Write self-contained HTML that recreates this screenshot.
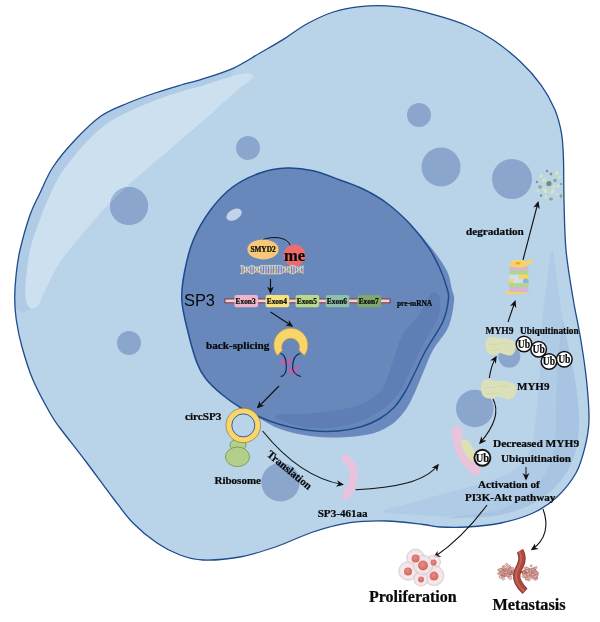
<!DOCTYPE html><html><head><meta charset="utf-8"><style>html,body{margin:0;padding:0;background:#fff}svg{display:block;will-change:transform}text{font-family:"Liberation Serif",serif;font-weight:bold;fill:#080808;stroke:#080808;stroke-width:0.22px}</style></head><body><svg width="600" height="622" viewBox="0 0 600 622">
<defs><marker id="ah" viewBox="0 0 10 10" refX="8" refY="5" markerWidth="7.5" markerHeight="7.5" markerUnits="userSpaceOnUse" orient="auto-start-reverse"><path d="M0,0.5 L10,5 L0,9.5 L3,5 Z" fill="#111"/></marker></defs>
<rect width="600" height="622" fill="#fff"/>
<g>
<path d="M14.7,298.0 C14.7,290.3 15.3,282.0 16.2,274.0 C17.1,266.0 17.7,259.8 20.0,250.0 C22.3,240.2 26.7,224.5 30.0,215.0 C33.3,205.5 36.2,201.0 40.0,193.0 C43.8,185.0 47.2,175.8 53.0,167.0 C58.8,158.2 67.0,148.5 75.0,140.0 C83.0,131.5 92.2,122.2 101.0,116.0 C109.8,109.8 119.0,106.8 128.0,103.0 C137.0,99.2 146.2,96.0 155.0,93.0 C163.8,90.0 173.5,87.2 181.0,85.0 C188.5,82.8 191.3,82.6 200.0,79.8 C208.7,77.0 223.0,72.8 233.0,68.3 C243.0,63.8 251.7,57.8 260.0,53.0 C268.3,48.2 275.2,44.4 283.0,39.6 C290.8,34.8 298.3,28.6 306.7,24.0 C315.1,19.4 324.4,14.9 333.3,12.0 C342.2,9.1 351.1,7.7 360.0,6.7 C368.9,5.7 377.8,5.5 386.7,5.9 C395.6,6.3 404.4,7.6 413.3,9.3 C422.2,11.0 431.1,13.6 440.0,16.3 C448.9,19.0 457.8,21.6 466.7,25.5 C475.6,29.4 484.4,34.0 493.3,40.0 C502.2,46.0 512.0,53.8 520.0,61.3 C528.0,68.8 535.5,77.3 541.3,85.3 C547.1,93.3 551.3,101.3 554.7,109.3 C558.1,117.3 560.0,124.9 561.5,133.3 C563.0,141.8 563.1,148.9 563.5,160.0 C563.9,171.1 563.6,185.0 564.0,200.0 C564.4,215.0 564.5,233.7 566.0,250.0 C567.5,266.3 570.6,283.3 573.0,298.0 C575.4,312.7 578.2,324.3 580.5,338.0 C582.8,351.7 585.1,366.3 586.5,380.0 C587.9,393.7 589.2,408.8 589.0,420.0 C588.8,431.2 587.2,438.2 585.0,447.0 C582.8,455.8 580.7,464.7 576.0,473.0 C571.3,481.3 564.2,490.3 557.0,497.0 C549.8,503.7 542.3,508.7 533.0,513.0 C523.7,517.3 512.0,520.7 501.0,523.0 C490.0,525.3 477.2,526.3 467.0,527.0 C456.8,527.7 447.3,527.4 440.0,527.0 C432.7,526.6 431.9,525.5 423.0,524.5 C414.1,523.5 398.9,521.3 386.7,521.0 C374.5,520.7 362.3,520.9 350.0,522.7 C337.7,524.5 325.2,528.0 313.0,532.0 C300.8,536.0 288.9,542.3 276.7,546.5 C264.5,550.7 252.3,554.8 240.0,557.0 C227.7,559.2 213.0,560.3 203.0,560.0 C193.0,559.7 187.7,557.8 180.0,555.0 C172.3,552.2 164.8,548.3 157.0,543.0 C149.2,537.7 140.3,530.5 133.0,523.0 C125.7,515.5 120.7,508.0 113.0,498.0 C105.3,488.0 95.8,474.7 87.0,463.0 C78.2,451.3 66.2,436.3 60.0,428.0 C53.8,419.7 54.5,421.0 50.0,413.0 C45.5,405.0 37.7,391.0 33.0,380.0 C28.3,369.0 24.8,357.0 22.0,347.0 C19.2,337.0 17.5,328.2 16.3,320.0 C15.1,311.8 14.7,305.7 14.7,298.0Z" fill="#B9D3E9"/>
<circle cx="129" cy="206" r="19" fill="#8BA6CC"/>
<circle cx="248" cy="148" r="12" fill="#8BA6CC"/>
<circle cx="419" cy="115" r="12" fill="#8BA6CC"/>
<circle cx="441" cy="167" r="19.5" fill="#8BA6CC"/>
<circle cx="512" cy="179" r="20" fill="#8BA6CC"/>
<circle cx="129" cy="343" r="12" fill="#8BA6CC"/>
<circle cx="280.5" cy="482.3" r="19.2" fill="#8BA6CC"/>
<circle cx="474.8" cy="408.5" r="18.8" fill="#8BA6CC"/>
<circle cx="509.3" cy="356.6" r="11" fill="#8BA6CC"/>
<clipPath id="cc"><path d="M14.7,298.0 C14.7,290.3 15.3,282.0 16.2,274.0 C17.1,266.0 17.7,259.8 20.0,250.0 C22.3,240.2 26.7,224.5 30.0,215.0 C33.3,205.5 36.2,201.0 40.0,193.0 C43.8,185.0 47.2,175.8 53.0,167.0 C58.8,158.2 67.0,148.5 75.0,140.0 C83.0,131.5 92.2,122.2 101.0,116.0 C109.8,109.8 119.0,106.8 128.0,103.0 C137.0,99.2 146.2,96.0 155.0,93.0 C163.8,90.0 173.5,87.2 181.0,85.0 C188.5,82.8 191.3,82.6 200.0,79.8 C208.7,77.0 223.0,72.8 233.0,68.3 C243.0,63.8 251.7,57.8 260.0,53.0 C268.3,48.2 275.2,44.4 283.0,39.6 C290.8,34.8 298.3,28.6 306.7,24.0 C315.1,19.4 324.4,14.9 333.3,12.0 C342.2,9.1 351.1,7.7 360.0,6.7 C368.9,5.7 377.8,5.5 386.7,5.9 C395.6,6.3 404.4,7.6 413.3,9.3 C422.2,11.0 431.1,13.6 440.0,16.3 C448.9,19.0 457.8,21.6 466.7,25.5 C475.6,29.4 484.4,34.0 493.3,40.0 C502.2,46.0 512.0,53.8 520.0,61.3 C528.0,68.8 535.5,77.3 541.3,85.3 C547.1,93.3 551.3,101.3 554.7,109.3 C558.1,117.3 560.0,124.9 561.5,133.3 C563.0,141.8 563.1,148.9 563.5,160.0 C563.9,171.1 563.6,185.0 564.0,200.0 C564.4,215.0 564.5,233.7 566.0,250.0 C567.5,266.3 570.6,283.3 573.0,298.0 C575.4,312.7 578.2,324.3 580.5,338.0 C582.8,351.7 585.1,366.3 586.5,380.0 C587.9,393.7 589.2,408.8 589.0,420.0 C588.8,431.2 587.2,438.2 585.0,447.0 C582.8,455.8 580.7,464.7 576.0,473.0 C571.3,481.3 564.2,490.3 557.0,497.0 C549.8,503.7 542.3,508.7 533.0,513.0 C523.7,517.3 512.0,520.7 501.0,523.0 C490.0,525.3 477.2,526.3 467.0,527.0 C456.8,527.7 447.3,527.4 440.0,527.0 C432.7,526.6 431.9,525.5 423.0,524.5 C414.1,523.5 398.9,521.3 386.7,521.0 C374.5,520.7 362.3,520.9 350.0,522.7 C337.7,524.5 325.2,528.0 313.0,532.0 C300.8,536.0 288.9,542.3 276.7,546.5 C264.5,550.7 252.3,554.8 240.0,557.0 C227.7,559.2 213.0,560.3 203.0,560.0 C193.0,559.7 187.7,557.8 180.0,555.0 C172.3,552.2 164.8,548.3 157.0,543.0 C149.2,537.7 140.3,530.5 133.0,523.0 C125.7,515.5 120.7,508.0 113.0,498.0 C105.3,488.0 95.8,474.7 87.0,463.0 C78.2,451.3 66.2,436.3 60.0,428.0 C53.8,419.7 54.5,421.0 50.0,413.0 C45.5,405.0 37.7,391.0 33.0,380.0 C28.3,369.0 24.8,357.0 22.0,347.0 C19.2,337.0 17.5,328.2 16.3,320.0 C15.1,311.8 14.7,305.7 14.7,298.0Z"/></clipPath>
<path d="M236.0,60.0 C232.3,56.3 214.3,66.3 200.0,70.0 C185.7,73.7 166.7,75.7 150.0,82.0 C133.3,88.3 116.7,95.0 100.0,108.0 C83.3,121.0 65.0,136.3 50.0,160.0 C35.0,183.7 17.2,228.0 10.0,250.0 C2.8,272.0 5.5,281.8 7.0,292.0 C8.5,302.2 15.0,308.3 19.0,311.0 C23.0,313.7 26.2,312.3 31.0,308.0 C35.8,303.7 43.2,292.6 48.0,285.0 C52.8,277.4 54.5,270.7 60.0,262.5 C65.5,254.3 73.0,245.6 81.0,236.0 C89.0,226.4 99.3,214.2 108.0,205.0 C116.7,195.8 122.9,190.1 133.0,181.0 C143.1,171.9 156.9,160.4 168.5,150.5 C180.1,140.6 193.7,131.2 202.6,121.5 C211.5,111.8 216.4,102.2 222.0,92.0 C227.6,81.8 239.7,63.7 236.0,60.0Z" fill="#AFCBE6" clip-path="url(#cc)"/>
<path d="M253.5,76.5 C253.4,75.1 251.4,73.3 248.0,73.2 C244.6,73.1 241.0,73.8 233.0,76.0 C225.0,78.2 208.7,83.9 200.0,86.5 C191.3,89.1 188.5,89.2 181.0,91.5 C173.5,93.8 163.7,97.2 155.0,100.5 C146.3,103.8 137.3,107.4 129.0,111.5 C120.7,115.6 113.0,118.9 105.0,125.0 C97.0,131.1 88.3,139.9 81.0,148.0 C73.7,156.1 66.3,165.3 61.0,173.5 C55.7,181.7 52.4,189.6 49.0,197.0 C45.6,204.4 43.7,209.2 40.5,218.0 C37.3,226.8 32.5,238.8 30.0,250.0 C27.5,261.2 26.2,276.7 25.5,285.0 C24.8,293.3 25.5,296.4 26.0,300.0 C26.5,303.6 27.2,305.1 28.5,306.5 C29.8,307.9 31.8,308.8 33.5,308.5 C35.2,308.2 37.1,306.9 38.5,305.0 C39.9,303.1 40.4,300.3 42.0,297.0 C43.6,293.7 45.0,290.8 48.0,285.0 C51.0,279.2 54.5,270.7 60.0,262.5 C65.5,254.3 73.0,245.6 81.0,236.0 C89.0,226.4 99.3,214.2 108.0,205.0 C116.7,195.8 122.9,190.1 133.0,181.0 C143.1,171.9 156.9,160.4 168.5,150.5 C180.1,140.6 191.5,131.2 202.6,121.5 C213.7,111.8 227.3,98.7 235.0,92.0 C242.7,85.3 245.4,84.1 248.5,81.5 C251.6,78.9 253.6,77.9 253.5,76.5Z" fill="#CDE0EF"/>
<clipPath id="hc"><path d="M253.5,76.5 C253.4,75.1 251.4,73.3 248.0,73.2 C244.6,73.1 241.0,73.8 233.0,76.0 C225.0,78.2 208.7,83.9 200.0,86.5 C191.3,89.1 188.5,89.2 181.0,91.5 C173.5,93.8 163.7,97.2 155.0,100.5 C146.3,103.8 137.3,107.4 129.0,111.5 C120.7,115.6 113.0,118.9 105.0,125.0 C97.0,131.1 88.3,139.9 81.0,148.0 C73.7,156.1 66.3,165.3 61.0,173.5 C55.7,181.7 52.4,189.6 49.0,197.0 C45.6,204.4 43.7,209.2 40.5,218.0 C37.3,226.8 32.5,238.8 30.0,250.0 C27.5,261.2 26.2,276.7 25.5,285.0 C24.8,293.3 25.5,296.4 26.0,300.0 C26.5,303.6 27.2,305.1 28.5,306.5 C29.8,307.9 31.8,308.8 33.5,308.5 C35.2,308.2 37.1,306.9 38.5,305.0 C39.9,303.1 40.4,300.3 42.0,297.0 C43.6,293.7 45.0,290.8 48.0,285.0 C51.0,279.2 54.5,270.7 60.0,262.5 C65.5,254.3 73.0,245.6 81.0,236.0 C89.0,226.4 99.3,214.2 108.0,205.0 C116.7,195.8 122.9,190.1 133.0,181.0 C143.1,171.9 156.9,160.4 168.5,150.5 C180.1,140.6 191.5,131.2 202.6,121.5 C213.7,111.8 227.3,98.7 235.0,92.0 C242.7,85.3 245.4,84.1 248.5,81.5 C251.6,78.9 253.6,77.9 253.5,76.5Z"/></clipPath>
<circle cx="129" cy="206" r="19" fill="#8BA6CC"/>
<circle cx="129" cy="206" r="19" fill="#9DB5D6" clip-path="url(#hc)"/>
<path d="M552.0,250.0 C553.8,248.3 555.3,269.0 557.0,280.0 C558.7,291.0 560.2,305.2 562.0,316.0 C563.8,326.8 565.8,334.3 568.0,345.0 C570.2,355.7 573.2,368.3 575.0,380.0 C576.8,391.7 578.7,404.2 579.0,415.0 C579.3,425.8 578.8,435.8 577.0,445.0 C575.2,454.2 572.2,462.5 568.0,470.0 C563.8,477.5 558.3,484.2 552.0,490.0 C545.7,495.8 538.7,500.8 530.0,505.0 C521.3,509.2 511.7,513.0 500.0,515.0 C488.3,517.0 473.3,517.0 460.0,517.0 C446.7,517.0 432.8,515.9 420.0,515.0 C407.2,514.1 384.2,513.6 383.0,511.5 C381.8,509.4 402.4,505.6 413.0,502.5 C423.6,499.4 435.5,496.1 446.7,493.0 C457.9,489.9 471.1,486.7 480.0,484.0 C488.9,481.3 493.7,479.8 500.0,477.0 C506.3,474.2 513.3,471.3 518.0,467.5 C522.7,463.7 525.5,458.6 528.0,454.0 C530.5,449.4 531.8,445.7 533.0,440.0 C534.2,434.3 534.5,429.2 535.5,420.0 C536.5,410.8 538.0,400.5 539.0,385.0 C540.0,369.5 540.5,342.8 541.7,327.0 C542.9,311.2 544.3,302.8 546.0,290.0 C547.7,277.2 550.2,251.7 552.0,250.0Z" fill="#B0CBE6"/>
<path d="M563.0,322.0 C564.5,321.2 566.0,335.3 568.0,345.0 C570.0,354.7 573.2,368.3 575.0,380.0 C576.8,391.7 578.7,404.2 579.0,415.0 C579.3,425.8 578.8,435.8 577.0,445.0 C575.2,454.2 572.2,462.5 568.0,470.0 C563.8,477.5 558.3,484.2 552.0,490.0 C545.7,495.8 538.7,500.8 530.0,505.0 C521.3,509.2 510.0,512.9 500.0,515.0 C490.0,517.1 478.7,517.0 470.0,517.5 C461.3,518.0 448.0,518.5 448.0,518.0 C448.0,517.5 460.9,516.0 470.0,514.5 C479.1,513.0 492.8,512.4 502.5,509.0 C512.2,505.6 520.9,499.8 528.0,494.0 C535.1,488.2 540.8,481.0 545.0,474.0 C549.2,467.0 551.7,461.0 553.5,452.0 C555.3,443.0 555.5,431.2 556.0,420.0 C556.5,408.8 556.0,396.7 556.5,385.0 C557.0,373.3 557.9,360.5 559.0,350.0 C560.1,339.5 561.5,322.8 563.0,322.0Z" fill="#A7C5E2"/>
<path d="M14.7,298.0 C14.7,290.3 15.3,282.0 16.2,274.0 C17.1,266.0 17.7,259.8 20.0,250.0 C22.3,240.2 26.7,224.5 30.0,215.0 C33.3,205.5 36.2,201.0 40.0,193.0 C43.8,185.0 47.2,175.8 53.0,167.0 C58.8,158.2 67.0,148.5 75.0,140.0 C83.0,131.5 92.2,122.2 101.0,116.0 C109.8,109.8 119.0,106.8 128.0,103.0 C137.0,99.2 146.2,96.0 155.0,93.0 C163.8,90.0 173.5,87.2 181.0,85.0 C188.5,82.8 191.3,82.6 200.0,79.8 C208.7,77.0 223.0,72.8 233.0,68.3 C243.0,63.8 251.7,57.8 260.0,53.0 C268.3,48.2 275.2,44.4 283.0,39.6 C290.8,34.8 298.3,28.6 306.7,24.0 C315.1,19.4 324.4,14.9 333.3,12.0 C342.2,9.1 351.1,7.7 360.0,6.7 C368.9,5.7 377.8,5.5 386.7,5.9 C395.6,6.3 404.4,7.6 413.3,9.3 C422.2,11.0 431.1,13.6 440.0,16.3 C448.9,19.0 457.8,21.6 466.7,25.5 C475.6,29.4 484.4,34.0 493.3,40.0 C502.2,46.0 512.0,53.8 520.0,61.3 C528.0,68.8 535.5,77.3 541.3,85.3 C547.1,93.3 551.3,101.3 554.7,109.3 C558.1,117.3 560.0,124.9 561.5,133.3 C563.0,141.8 563.1,148.9 563.5,160.0 C563.9,171.1 563.6,185.0 564.0,200.0 C564.4,215.0 564.5,233.7 566.0,250.0 C567.5,266.3 570.6,283.3 573.0,298.0 C575.4,312.7 578.2,324.3 580.5,338.0 C582.8,351.7 585.1,366.3 586.5,380.0 C587.9,393.7 589.2,408.8 589.0,420.0 C588.8,431.2 587.2,438.2 585.0,447.0 C582.8,455.8 580.7,464.7 576.0,473.0 C571.3,481.3 564.2,490.3 557.0,497.0 C549.8,503.7 542.3,508.7 533.0,513.0 C523.7,517.3 512.0,520.7 501.0,523.0 C490.0,525.3 477.2,526.3 467.0,527.0 C456.8,527.7 447.3,527.4 440.0,527.0 C432.7,526.6 431.9,525.5 423.0,524.5 C414.1,523.5 398.9,521.3 386.7,521.0 C374.5,520.7 362.3,520.9 350.0,522.7 C337.7,524.5 325.2,528.0 313.0,532.0 C300.8,536.0 288.9,542.3 276.7,546.5 C264.5,550.7 252.3,554.8 240.0,557.0 C227.7,559.2 213.0,560.3 203.0,560.0 C193.0,559.7 187.7,557.8 180.0,555.0 C172.3,552.2 164.8,548.3 157.0,543.0 C149.2,537.7 140.3,530.5 133.0,523.0 C125.7,515.5 120.7,508.0 113.0,498.0 C105.3,488.0 95.8,474.7 87.0,463.0 C78.2,451.3 66.2,436.3 60.0,428.0 C53.8,419.7 54.5,421.0 50.0,413.0 C45.5,405.0 37.7,391.0 33.0,380.0 C28.3,369.0 24.8,357.0 22.0,347.0 C19.2,337.0 17.5,328.2 16.3,320.0 C15.1,311.8 14.7,305.7 14.7,298.0Z" fill="none" stroke="#1F4A8C" stroke-width="1.3"/>
<path d="M181.8,300.0 C181.3,290.3 182.6,282.0 184.5,272.0 C186.4,262.0 189.0,250.3 193.3,240.0 C197.6,229.7 203.9,219.1 210.3,210.3 C216.8,201.6 223.7,193.7 232.0,187.5 C240.3,181.3 250.9,176.2 260.0,173.0 C269.1,169.8 277.9,168.4 286.7,168.0 C295.5,167.6 304.1,168.7 313.0,170.7 C321.9,172.7 331.7,176.9 340.0,180.0 C348.3,183.1 355.2,185.2 363.0,189.0 C370.8,192.8 378.5,196.8 386.7,203.0 C394.9,209.2 404.3,218.2 412.0,226.0 C419.7,233.8 427.2,242.5 433.0,250.0 C438.8,257.5 443.8,264.4 447.0,271.0 C450.2,277.6 450.8,284.7 452.0,289.7 C453.2,294.7 454.6,294.8 454.0,301.0 C453.4,307.2 452.0,318.5 448.5,326.7 C445.0,334.9 437.2,342.3 433.0,350.0 C428.8,357.7 426.0,366.0 423.0,373.0 C420.0,380.0 417.6,386.3 415.0,392.0 C412.4,397.7 410.5,402.3 407.5,407.0 C404.5,411.7 400.9,416.3 397.0,420.0 C393.1,423.7 388.8,426.6 384.0,429.0 C379.2,431.4 375.3,433.1 368.0,434.5 C360.7,435.9 349.7,437.2 340.0,437.5 C330.3,437.8 320.0,437.4 310.0,436.0 C300.0,434.6 288.7,432.1 280.0,429.0 C271.3,425.9 264.7,421.1 258.0,417.5 C251.3,413.9 246.0,411.3 240.0,407.5 C234.0,403.7 227.7,399.2 222.0,394.5 C216.3,389.8 210.2,384.2 206.0,379.0 C201.8,373.8 200.1,371.2 197.0,363.0 C193.9,354.8 190.0,340.5 187.5,330.0 C185.0,319.5 182.3,309.7 181.8,300.0Z" fill="#6A8ABF"/>
<path d="M181.8,300.0 C181.3,290.3 182.6,282.0 184.5,272.0 C186.4,262.0 189.0,250.3 193.3,240.0 C197.6,229.7 203.9,219.1 210.3,210.3 C216.8,201.6 223.7,193.7 232.0,187.5 C240.3,181.3 250.9,176.2 260.0,173.0 C269.1,169.8 277.9,168.4 286.7,168.0 C295.5,167.6 304.1,168.7 313.0,170.7 C321.9,172.7 331.7,176.9 340.0,180.0 C348.3,183.1 355.2,185.2 363.0,189.0 C370.8,192.8 378.9,197.2 386.7,203.0 C394.5,208.8 403.0,216.6 410.0,224.0 C417.0,231.4 423.7,240.2 428.7,247.7 C433.7,255.1 437.1,262.5 440.0,268.7 C442.9,274.9 444.6,280.0 446.0,285.0 C447.4,290.0 449.1,292.5 448.5,298.7 C447.9,304.9 446.4,313.4 442.7,322.0 C438.9,330.6 430.7,341.5 426.0,350.0 C421.3,358.5 418.2,366.0 414.7,373.0 C411.2,380.0 408.4,386.2 405.0,392.0 C401.6,397.8 398.2,403.1 394.0,407.5 C389.8,411.9 385.3,415.3 380.0,418.5 C374.7,421.7 369.0,424.4 362.0,426.5 C355.0,428.6 346.7,430.3 338.0,431.0 C329.3,431.7 319.7,431.6 310.0,430.5 C300.3,429.4 288.7,426.9 280.0,424.5 C271.3,422.1 264.7,419.2 258.0,416.3 C251.3,413.4 246.0,410.9 240.0,407.3 C234.0,403.7 227.7,399.2 222.0,394.5 C216.3,389.8 210.2,384.2 206.0,379.0 C201.8,373.8 200.1,371.2 197.0,363.0 C193.9,354.8 190.0,340.5 187.5,330.0 C185.0,319.5 182.3,309.7 181.8,300.0Z" fill="#6888BC" stroke="#1F4A8C" stroke-width="1.5"/>
<path d="M434.5,292.0 C436.5,292.3 439.4,295.7 440.0,300.0 C440.6,304.3 440.7,310.8 438.0,318.0 C435.3,325.2 428.5,334.3 424.0,343.0 C419.5,351.7 414.8,362.2 411.0,370.0 C407.2,377.8 404.8,384.2 401.0,390.0 C397.2,395.8 392.8,400.7 388.0,405.0 C383.2,409.3 378.0,412.8 372.0,416.0 C366.0,419.2 359.3,422.0 352.0,424.0 C344.7,426.0 336.2,427.5 328.0,428.0 C319.8,428.5 310.2,428.0 303.0,427.0 C295.8,426.0 289.7,423.7 285.0,422.0 C280.3,420.3 275.0,418.0 275.0,416.7 C275.0,415.4 280.3,414.4 285.0,414.0 C289.7,413.6 295.5,414.5 303.0,414.0 C310.5,413.5 321.1,412.3 330.0,411.0 C338.9,409.7 349.2,408.5 356.7,406.0 C364.2,403.5 370.6,399.0 375.0,396.0 C379.4,393.0 380.7,391.8 383.0,388.0 C385.3,384.2 386.8,379.0 389.0,373.0 C391.2,367.0 393.7,358.5 396.0,352.0 C398.3,345.5 399.2,340.2 403.0,334.0 C406.8,327.8 414.8,321.0 419.0,315.0 C423.2,309.0 425.4,301.8 428.0,298.0 C430.6,294.2 432.5,291.7 434.5,292.0Z" fill="#5E7EB5"/>
<ellipse cx="234" cy="214.7" rx="8.3" ry="5.2" transform="rotate(-30 234 214.7)" fill="#C5D3E8"/>
<path d="M263,239.6 C272,236 288,236.5 290.5,246" fill="none" stroke="#111" stroke-width="1"/>
<ellipse cx="263" cy="249.4" rx="15.6" ry="10" fill="#F7C878"/>
<text x="263" y="252" font-size="7.3" text-anchor="middle" >SMYD2</text>
<circle cx="294.4" cy="255.5" r="11" fill="#EE6C6F"/>
<text x="294.6" y="261" font-size="16.5" text-anchor="middle" fill="#000">me</text>
<rect x="241.0" y="265.52" width="1.4" height="4.08" fill="#B4D0F4"/>
<rect x="241.0" y="269.6" width="1.4" height="4.08" fill="#EBA49C"/>
<rect x="243.6" y="266.20" width="1.4" height="3.40" fill="#F2DC84"/>
<rect x="243.6" y="269.6" width="1.4" height="3.40" fill="#F2DC84"/>
<rect x="246.1" y="266.20" width="1.4" height="3.40" fill="#B4D0F4"/>
<rect x="246.1" y="269.6" width="1.4" height="3.40" fill="#EBA49C"/>
<rect x="248.7" y="266.20" width="1.4" height="3.40" fill="#EBAFD0"/>
<rect x="248.7" y="269.6" width="1.4" height="3.40" fill="#B4D0F4"/>
<rect x="251.2" y="265.50" width="1.4" height="4.10" fill="#B4D0F4"/>
<rect x="251.2" y="269.6" width="1.4" height="4.10" fill="#EBA49C"/>
<rect x="253.8" y="266.20" width="1.4" height="3.40" fill="#F2DC84"/>
<rect x="253.8" y="269.6" width="1.4" height="3.40" fill="#EBAFD0"/>
<rect x="256.3" y="266.20" width="1.4" height="3.40" fill="#B4D0F4"/>
<rect x="256.3" y="269.6" width="1.4" height="3.40" fill="#EBA49C"/>
<rect x="258.9" y="266.20" width="1.4" height="3.40" fill="#F2DC84"/>
<rect x="258.9" y="269.6" width="1.4" height="3.40" fill="#F2DC84"/>
<rect x="261.4" y="265.50" width="1.4" height="4.10" fill="#B4D0F4"/>
<rect x="261.4" y="269.6" width="1.4" height="4.10" fill="#EBA49C"/>
<rect x="264.0" y="265.50" width="1.4" height="4.10" fill="#EBAFD0"/>
<rect x="264.0" y="269.6" width="1.4" height="4.10" fill="#B4D0F4"/>
<rect x="266.5" y="265.50" width="1.4" height="4.10" fill="#B4D0F4"/>
<rect x="266.5" y="269.6" width="1.4" height="4.10" fill="#EBA49C"/>
<rect x="269.1" y="265.50" width="1.4" height="4.10" fill="#F2DC84"/>
<rect x="269.1" y="269.6" width="1.4" height="4.10" fill="#EBAFD0"/>
<rect x="271.6" y="265.50" width="1.4" height="4.10" fill="#B4D0F4"/>
<rect x="271.6" y="269.6" width="1.4" height="4.10" fill="#EBA49C"/>
<rect x="274.2" y="265.50" width="1.4" height="4.10" fill="#F2DC84"/>
<rect x="274.2" y="269.6" width="1.4" height="4.10" fill="#F2DC84"/>
<rect x="276.7" y="265.50" width="1.4" height="4.10" fill="#B4D0F4"/>
<rect x="276.7" y="269.6" width="1.4" height="4.10" fill="#EBA49C"/>
<rect x="279.3" y="265.50" width="1.4" height="4.10" fill="#EBAFD0"/>
<rect x="279.3" y="269.6" width="1.4" height="4.10" fill="#B4D0F4"/>
<rect x="281.8" y="266.20" width="1.4" height="3.40" fill="#B4D0F4"/>
<rect x="281.8" y="269.6" width="1.4" height="3.40" fill="#EBA49C"/>
<rect x="284.4" y="266.20" width="1.4" height="3.40" fill="#F2DC84"/>
<rect x="284.4" y="269.6" width="1.4" height="3.40" fill="#EBAFD0"/>
<rect x="286.9" y="266.20" width="1.4" height="3.40" fill="#B4D0F4"/>
<rect x="286.9" y="269.6" width="1.4" height="3.40" fill="#EBA49C"/>
<rect x="289.5" y="266.20" width="1.4" height="3.40" fill="#F2DC84"/>
<rect x="289.5" y="269.6" width="1.4" height="3.40" fill="#F2DC84"/>
<rect x="292.0" y="265.50" width="1.4" height="4.10" fill="#B4D0F4"/>
<rect x="292.0" y="269.6" width="1.4" height="4.10" fill="#EBA49C"/>
<rect x="294.6" y="266.20" width="1.4" height="3.40" fill="#EBAFD0"/>
<rect x="294.6" y="269.6" width="1.4" height="3.40" fill="#B4D0F4"/>
<rect x="297.1" y="266.20" width="1.4" height="3.40" fill="#B4D0F4"/>
<rect x="297.1" y="269.6" width="1.4" height="3.40" fill="#EBA49C"/>
<rect x="299.7" y="266.20" width="1.4" height="3.40" fill="#F2DC84"/>
<rect x="299.7" y="269.6" width="1.4" height="3.40" fill="#EBAFD0"/>
<rect x="302.2" y="266.11" width="1.4" height="3.49" fill="#B4D0F4"/>
<rect x="302.2" y="269.6" width="1.4" height="3.49" fill="#EBA49C"/>
<path d="M240.0,273.1 L240.5,273.4 L241.0,273.6 L241.5,273.8 L242.0,273.8 L242.5,273.7 L243.0,273.6 L243.5,273.3 L244.0,272.9 L244.5,272.5 L245.0,272.0 L245.5,271.4 L246.0,270.8 L246.5,270.1 L247.0,269.5 L247.5,268.8 L248.0,268.2 L248.5,267.6 L249.0,267.0 L249.5,266.5 L250.0,266.1 L250.5,265.8 L251.0,265.6 L251.5,265.4 L252.0,265.4 L252.5,265.5 L253.0,265.6 L253.5,265.9 L254.0,266.3 L254.5,266.7 L255.0,267.2 L255.5,267.8 L256.0,268.4 L256.5,269.1 L257.0,269.7 L257.5,270.4 L258.0,271.0 L258.5,271.6 L259.0,272.2 L259.5,272.7 L260.0,273.1 L260.5,273.4 L261.0,273.6 L261.5,273.8 L262.0,273.8 L262.5,273.8 L263.0,273.8 L263.5,273.8 L264.0,273.8 L264.5,273.8 L265.0,273.8 L265.5,273.8 L266.0,273.8 L266.5,273.8 L267.0,273.8 L267.5,273.8 L268.0,273.8 L268.5,273.8 L269.0,273.8 L269.5,273.8 L270.0,273.8 L270.5,273.8 L271.0,273.8 L271.5,273.8 L272.0,273.8 L272.5,273.8 L273.0,273.8 L273.5,273.8 L274.0,273.8 L274.5,273.8 L275.0,273.8 L275.5,273.8 L276.0,273.8 L276.5,273.8 L277.0,273.8 L277.5,273.8 L278.0,273.8 L278.5,273.8 L279.0,273.8 L279.5,273.8 L280.0,273.8 L280.5,273.8 L281.0,273.7 L281.5,273.5 L282.0,273.3 L282.5,273.0 L283.0,272.6 L283.5,272.3 L284.0,271.8 L284.5,271.4 L285.0,270.9 L285.5,270.3 L286.0,269.8 L286.5,269.3 L287.0,268.8 L287.5,268.3 L288.0,267.8 L288.5,267.3 L289.0,266.9 L289.5,266.5 L290.0,266.2 L290.5,265.9 L291.0,265.7 L291.5,265.5 L292.0,265.4 L292.5,265.4 L293.0,265.4 L293.5,265.5 L294.0,265.7 L294.5,265.9 L295.0,266.2 L295.5,266.6 L296.0,267.0 L296.5,267.4 L297.0,267.9 L297.5,268.4 L298.0,268.9 L298.5,269.4 L299.0,269.9 L299.5,270.4 L300.0,270.9 L300.5,271.4 L301.0,271.9 L301.5,272.3 L302.0,272.7 L302.5,273.0 L303.0,273.3 L303.5,273.5" fill="none" stroke="#E2ECB4" stroke-width="0.85"/>
<path d="M240.0,266.1 L240.5,265.8 L241.0,265.6 L241.5,265.4 L242.0,265.4 L242.5,265.5 L243.0,265.6 L243.5,265.9 L244.0,266.3 L244.5,266.7 L245.0,267.2 L245.5,267.8 L246.0,268.4 L246.5,269.1 L247.0,269.7 L247.5,270.4 L248.0,271.0 L248.5,271.6 L249.0,272.2 L249.5,272.7 L250.0,273.1 L250.5,273.4 L251.0,273.6 L251.5,273.8 L252.0,273.8 L252.5,273.7 L253.0,273.6 L253.5,273.3 L254.0,272.9 L254.5,272.5 L255.0,272.0 L255.5,271.4 L256.0,270.8 L256.5,270.1 L257.0,269.5 L257.5,268.8 L258.0,268.2 L258.5,267.6 L259.0,267.0 L259.5,266.5 L260.0,266.1 L260.5,265.8 L261.0,265.6 L261.5,265.4 L262.0,265.4 L262.5,265.4 L263.0,265.4 L263.5,265.4 L264.0,265.4 L264.5,265.4 L265.0,265.4 L265.5,265.4 L266.0,265.4 L266.5,265.4 L267.0,265.4 L267.5,265.4 L268.0,265.4 L268.5,265.4 L269.0,265.4 L269.5,265.4 L270.0,265.4 L270.5,265.4 L271.0,265.4 L271.5,265.4 L272.0,265.4 L272.5,265.4 L273.0,265.4 L273.5,265.4 L274.0,265.4 L274.5,265.4 L275.0,265.4 L275.5,265.4 L276.0,265.4 L276.5,265.4 L277.0,265.4 L277.5,265.4 L278.0,265.4 L278.5,265.4 L279.0,265.4 L279.5,265.4 L280.0,265.4 L280.5,265.4 L281.0,265.5 L281.5,265.7 L282.0,265.9 L282.5,266.2 L283.0,266.6 L283.5,266.9 L284.0,267.4 L284.5,267.8 L285.0,268.3 L285.5,268.9 L286.0,269.4 L286.5,269.9 L287.0,270.4 L287.5,270.9 L288.0,271.4 L288.5,271.9 L289.0,272.3 L289.5,272.7 L290.0,273.0 L290.5,273.3 L291.0,273.5 L291.5,273.7 L292.0,273.8 L292.5,273.8 L293.0,273.8 L293.5,273.7 L294.0,273.5 L294.5,273.3 L295.0,273.0 L295.5,272.6 L296.0,272.2 L296.5,271.8 L297.0,271.3 L297.5,270.8 L298.0,270.3 L298.5,269.8 L299.0,269.3 L299.5,268.8 L300.0,268.3 L300.5,267.8 L301.0,267.3 L301.5,266.9 L302.0,266.5 L302.5,266.2 L303.0,265.9 L303.5,265.7" fill="none" stroke="#E2ECB4" stroke-width="0.85"/>
<path d="M270.5,279 L270.5,292.5" fill="none" stroke="#111" stroke-width="1.1" marker-end="url(#ah)" />
<rect x="225" y="299" width="165" height="3.8" fill="#F8CDCA" stroke="#7A1F2A" stroke-width="0.8"/>
<rect x="234.4" y="295" width="23.6" height="12.2" rx="2" fill="#EEB5CB"/>
<text x="245.6" y="303.8" font-size="7.4" text-anchor="middle" >Exon3</text>
<rect x="265.6" y="295" width="23.6" height="12.2" rx="2" fill="#F7E27E"/>
<text x="276.8" y="303.8" font-size="7.4" text-anchor="middle" >Exon4</text>
<rect x="295.6" y="295" width="23.6" height="12.2" rx="2" fill="#B9D98A"/>
<text x="306.8" y="303.8" font-size="7.4" text-anchor="middle" >Exon5</text>
<rect x="325.7" y="295" width="23.6" height="12.2" rx="2" fill="#8FBFA8"/>
<text x="336.9" y="303.8" font-size="7.4" text-anchor="middle" >Exon6</text>
<rect x="357.5" y="295" width="23.6" height="12.2" rx="2" fill="#7FA86A"/>
<text x="368.7" y="303.8" font-size="7.4" text-anchor="middle" >Exon7</text>
<text x="184" y="306.3" font-size="16.4" style="font-family:'Liberation Sans',sans-serif;font-weight:normal;stroke:none" fill="#111">SP3</text>
<text x="397" y="305.5" font-size="7.4" text-anchor="start" >pre-mRNA</text>
<path d="M270.5,312 L292,326" fill="none" stroke="#111" stroke-width="1.1" marker-end="url(#ah)" />
<path d="M277.3,355.5 A17,17 0 1 1 304.3,355.5 L299,350.3 A8.9,8.9 0 1 0 282.3,350.3 Z" fill="#F7D568" stroke="#C8963C" stroke-width="0.6"/>
<ellipse cx="283" cy="362" rx="2.6" ry="3.8" fill="#A96AB0" transform="rotate(-20 283 362)"/>
<ellipse cx="288.8" cy="361.3" rx="2.6" ry="3.8" fill="#A96AB0" transform="rotate(25 288.8 361.3)"/>
<ellipse cx="290.6" cy="370.6" rx="2.6" ry="3.8" fill="#A96AB0" transform="rotate(-25 290.6 370.6)"/>
<ellipse cx="296" cy="369" rx="2.6" ry="3.8" fill="#A96AB0" transform="rotate(25 296 369)"/>
<path d="M280.5,353.3 C286,355 286.5,362 286.3,368 C286,373 284,376 280.7,376.6" fill="none" stroke="#10204A" stroke-width="1.1"/>
<path d="M300.3,353.3 C294,355 292.5,362 292.6,368 C293,373 296,375 300.8,376.6" fill="none" stroke="#10204A" stroke-width="1.1"/>
<text x="206" y="348.6" font-size="11.2" text-anchor="start" >back-splicing</text>
<path d="M279,386 L257.8,407.5" fill="none" stroke="#111" stroke-width="1.1" marker-end="url(#ah)" />
<ellipse cx="238" cy="445" rx="8" ry="6" fill="#B4CF8C" stroke="#6A9448" stroke-width="0.8"/>
<ellipse cx="237.5" cy="456.8" rx="12" ry="9.8" fill="#B4CF8C" stroke="#6A9448" stroke-width="0.8"/>
<circle cx="243.3" cy="425.4" r="14.4" fill="#B9D3E9" stroke="#F9D66C" stroke-width="5.6"/>
<circle cx="243.3" cy="425.4" r="17.3" fill="none" stroke="#8A6A20" stroke-width="0.6"/>
<circle cx="243.3" cy="425.4" r="11.5" fill="none" stroke="#2B4F8F" stroke-width="0.9"/>
<text x="185" y="420" font-size="11.2" text-anchor="start" >circSP3</text>
<text x="214.5" y="484" font-size="11" text-anchor="start" >Ribosome</text>
<path d="M262.6,431 C278,450 305,478 342.5,484.5" fill="none" stroke="#111" stroke-width="1.1" marker-end="url(#ah)" />
<text font-size="11" transform="translate(266.3,455.6) rotate(39.5)">Translation</text>
<path d="M345.5,458.5 C352,463 354.5,471 353.8,477 C353,484 350,491 345.8,495.5" fill="none" stroke="#E7C4DB" stroke-width="8.4" stroke-linecap="round"/>
<text x="317.7" y="516.8" font-size="11.1" text-anchor="start" >SP3-461aa</text>
<path d="M355.5,489.7 C395,488 425,482 438,465" fill="none" stroke="#111" stroke-width="1.1" marker-end="url(#ah)" />
<path d="M457,430.5 C457.5,448 465,462 475.5,470.5" fill="none" stroke="#E7C4DB" stroke-width="10" stroke-linecap="round"/>
<path d="M460.5,440.5 C465,437.5 470,440.5 471.5,446 C476,451 477,457 474,462 C468,460 462.5,452 460.5,440.5Z" fill="#DDE0B0"/>
<circle cx="482.4" cy="457.8" r="8.0" fill="#fff" stroke="#111" stroke-width="1.9"/>
<text transform="translate(482.4,461.925) scale(0.84,1)" font-size="12.5" text-anchor="middle" fill="#000">Ub</text>
<g transform="translate(485.4,337)"><path d="M0.0,9.0 C-0.2,7.1 0.0,5.0 0.6,3.5 C1.2,2.0 2.3,0.9 3.6,0.3 C4.9,-0.3 6.9,-0.2 8.6,0.0 C10.3,0.2 11.9,1.2 13.6,1.4 C15.3,1.6 16.8,0.8 18.6,1.0 C20.4,1.2 22.9,1.8 24.6,2.5 C26.4,3.2 28.2,3.6 29.1,5.0 C30.1,6.4 30.4,9.2 30.3,11.0 C30.2,12.8 29.6,14.7 28.6,16.0 C27.7,17.3 26.1,18.3 24.6,18.6 C23.1,18.9 21.3,18.0 19.6,17.6 C17.9,17.2 16.1,16.0 14.6,16.0 C13.1,16.0 12.1,17.3 10.6,17.6 C9.1,17.9 7.1,18.0 5.6,17.6 C4.1,17.2 2.5,16.4 1.6,15.0 C0.7,13.6 0.2,10.9 0.0,9.0Z" fill="#DCE0B8"/><path d="M3,8 c3,-2 6,1 9,-1 M15,6 c3,1 6,-1 9,1 M6,13 c3,1 5,-1 8,0" fill="none" stroke="#CDD2A6" stroke-width="0.7"/></g>
<g transform="translate(481,379.5) scale(1.165,1.07)"><path d="M0.0,9.0 C-0.2,7.1 0.0,5.0 0.6,3.5 C1.2,2.0 2.3,0.9 3.6,0.3 C4.9,-0.3 6.9,-0.2 8.6,0.0 C10.3,0.2 11.9,1.2 13.6,1.4 C15.3,1.6 16.8,0.8 18.6,1.0 C20.4,1.2 22.9,1.8 24.6,2.5 C26.4,3.2 28.2,3.6 29.1,5.0 C30.1,6.4 30.4,9.2 30.3,11.0 C30.2,12.8 29.6,14.7 28.6,16.0 C27.7,17.3 26.1,18.3 24.6,18.6 C23.1,18.9 21.3,18.0 19.6,17.6 C17.9,17.2 16.1,16.0 14.6,16.0 C13.1,16.0 12.1,17.3 10.6,17.6 C9.1,17.9 7.1,18.0 5.6,17.6 C4.1,17.2 2.5,16.4 1.6,15.0 C0.7,13.6 0.2,10.9 0.0,9.0Z" fill="#DCE0B8"/><path d="M3,8 c3,-2 6,1 9,-1 M15,6 c3,1 6,-1 9,1 M6,13 c3,1 5,-1 8,0" fill="none" stroke="#CDD2A6" stroke-width="0.7"/></g>
<circle cx="538.6" cy="349.3" r="7.8" fill="#fff" stroke="#111" stroke-width="1.5"/>
<text transform="translate(538.6,353.095) scale(0.84,1)" font-size="11.5" text-anchor="middle" fill="#000">Ub</text>
<circle cx="524" cy="344" r="7.8" fill="#fff" stroke="#111" stroke-width="1.5"/>
<text transform="translate(524,347.795) scale(0.84,1)" font-size="11.5" text-anchor="middle" fill="#000">Ub</text>
<circle cx="549" cy="361.5" r="7.8" fill="#fff" stroke="#111" stroke-width="1.5"/>
<text transform="translate(549,365.295) scale(0.84,1)" font-size="11.5" text-anchor="middle" fill="#000">Ub</text>
<circle cx="564.3" cy="359.2" r="7.8" fill="#fff" stroke="#111" stroke-width="1.5"/>
<text transform="translate(564.3,362.995) scale(0.84,1)" font-size="11.5" text-anchor="middle" fill="#000">Ub</text>
<text x="485.5" y="334" font-size="9.5" text-anchor="start" >MYH9</text>
<text x="520" y="334" font-size="9.35" text-anchor="start" >Ubiquitination</text>
<text x="517" y="390" font-size="11" text-anchor="start" >MYH9</text>
<path d="M489.3,378 C490.5,370 492.5,363 496,357" fill="none" stroke="#111" stroke-width="1.1" marker-end="url(#ah)" />
<path d="M493,399 C500,412 493,428 480,443" fill="none" stroke="#111" stroke-width="1.1" marker-end="url(#ah)" />
<path d="M508,322 L515,301.5" fill="none" stroke="#111" stroke-width="1.1" marker-end="url(#ah)" />
<path d="M523,260 L538,202.5" fill="none" stroke="#111" stroke-width="1.1" marker-end="url(#ah)" />
<text x="466" y="235" font-size="11.2" text-anchor="start" >degradation</text>
<text x="493" y="446.7" font-size="11.4" text-anchor="start" >Decreased MYH9</text>
<text x="501" y="461.5" font-size="11.15" text-anchor="start" >Ubiquitination</text>
<path d="M526,467 L526,479" fill="none" stroke="#111" stroke-width="1.0" marker-end="url(#ah)" />
<text x="478" y="488" font-size="11.2" text-anchor="start" >Activation of</text>
<text x="465" y="501" font-size="11.1" text-anchor="start" >PI3K-Akt pathway</text>
<path d="M487,505 C470,528 452,545 434.5,557" fill="none" stroke="#111" stroke-width="1.1" marker-end="url(#ah)" />
<path d="M543,509 C549,525 546,540 532,549.5" fill="none" stroke="#111" stroke-width="1.1" marker-end="url(#ah)" />
<text x="369" y="602" font-size="16" text-anchor="start" >Proliferation</text>
<text x="492.4" y="610" font-size="16.3" text-anchor="start" >Metastasis</text>
<ellipse cx="518" cy="291" rx="9.6" ry="3.2" fill="#F7D55E"/>
<ellipse cx="509.3" cy="292.3" rx="3.4" ry="2.1" fill="#F7D55E"/>
<ellipse cx="512.0" cy="268.6" rx="2.9" ry="2.7" fill="#D9B3DA"/>
<ellipse cx="516.6" cy="268.6" rx="2.9" ry="2.7" fill="#D9B3DA"/>
<ellipse cx="521.2" cy="268.6" rx="2.9" ry="2.7" fill="#D9B3DA"/>
<ellipse cx="525.8" cy="268.6" rx="2.9" ry="2.7" fill="#D9B3DA"/>
<ellipse cx="512.0" cy="272.8" rx="2.9" ry="2.7" fill="#B0D58C"/>
<ellipse cx="516.6" cy="272.8" rx="2.9" ry="2.7" fill="#B0D58C"/>
<ellipse cx="521.2" cy="272.8" rx="2.9" ry="2.7" fill="#B0D58C"/>
<ellipse cx="525.8" cy="272.8" rx="2.9" ry="2.7" fill="#B0D58C"/>
<ellipse cx="512.0" cy="277.0" rx="2.9" ry="2.7" fill="#CBE0F3"/>
<ellipse cx="516.6" cy="277.0" rx="2.9" ry="2.7" fill="#CBE0F3"/>
<ellipse cx="521.2" cy="277.0" rx="2.9" ry="2.7" fill="#F7D55E"/>
<ellipse cx="525.8" cy="277.0" rx="2.9" ry="2.7" fill="#F7D55E"/>
<ellipse cx="512.0" cy="281.2" rx="2.9" ry="2.7" fill="#F7D55E"/>
<ellipse cx="516.6" cy="281.2" rx="2.9" ry="2.7" fill="#CBE0F3"/>
<ellipse cx="521.2" cy="281.2" rx="2.9" ry="2.7" fill="#CBE0F3"/>
<ellipse cx="525.8" cy="281.2" rx="2.9" ry="2.7" fill="#8FB0DC"/>
<ellipse cx="512.0" cy="285.4" rx="2.9" ry="2.7" fill="#B0D58C"/>
<ellipse cx="516.6" cy="285.4" rx="2.9" ry="2.7" fill="#B0D58C"/>
<ellipse cx="521.2" cy="285.4" rx="2.9" ry="2.7" fill="#B0D58C"/>
<ellipse cx="525.8" cy="285.4" rx="2.9" ry="2.7" fill="#B0D58C"/>
<ellipse cx="512.0" cy="289.6" rx="2.9" ry="2.7" fill="#D9B3DA"/>
<ellipse cx="516.6" cy="289.6" rx="2.9" ry="2.7" fill="#D9B3DA"/>
<ellipse cx="521.2" cy="289.6" rx="2.9" ry="2.7" fill="#D9B3DA"/>
<ellipse cx="525.8" cy="289.6" rx="2.9" ry="2.7" fill="#D9B3DA"/>
<ellipse cx="518.8" cy="263.8" rx="9.3" ry="3.8" fill="#F7D55E"/>
<ellipse cx="529.5" cy="261.6" rx="3.2" ry="2" fill="#F7D55E" transform="rotate(-15 529.5 261.6)"/>
<ellipse cx="518" cy="263.3" rx="2.6" ry="1.2" fill="#E0A83A"/>
<ellipse cx="541" cy="176" rx="2.2" ry="1.3" fill="#DDE5B5" transform="rotate(-50 541 176)"/>
<ellipse cx="547" cy="171" rx="1.3" ry="1.3" fill="#7F9A78" transform="rotate(0 547 171)"/>
<ellipse cx="551" cy="174" rx="1.4" ry="1.4" fill="#7F9A78" transform="rotate(0 551 174)"/>
<ellipse cx="557" cy="173" rx="1.5" ry="2" fill="#DDE5B5" transform="rotate(20 557 173)"/>
<ellipse cx="537" cy="182" rx="1.2" ry="1.2" fill="#7F9A78" transform="rotate(0 537 182)"/>
<ellipse cx="544" cy="180" rx="2.4" ry="1.6" fill="#DDE5B5" transform="rotate(-40 544 180)"/>
<ellipse cx="549" cy="183.5" rx="2.6" ry="2.6" fill="#728F6C" transform="rotate(0 549 183.5)"/>
<ellipse cx="555" cy="180.5" rx="1.8" ry="1.8" fill="#8FA886" transform="rotate(0 555 180.5)"/>
<ellipse cx="560" cy="177" rx="1.2" ry="1.8" fill="#DDE5B5" transform="rotate(0 560 177)"/>
<ellipse cx="540" cy="187" rx="1.8" ry="1.8" fill="#8FA886" transform="rotate(0 540 187)"/>
<ellipse cx="545" cy="190.5" rx="2.8" ry="1.7" fill="#DDE5B5" transform="rotate(60 545 190.5)"/>
<ellipse cx="552.5" cy="191.5" rx="2.6" ry="1.7" fill="#DDE5B5" transform="rotate(-50 552.5 191.5)"/>
<ellipse cx="558" cy="186" rx="1.5" ry="1.5" fill="#DDE5B5" transform="rotate(0 558 186)"/>
<ellipse cx="561" cy="184" rx="1" ry="1" fill="#7F9A78" transform="rotate(0 561 184)"/>
<ellipse cx="541" cy="195.5" rx="1.3" ry="1.3" fill="#7F9A78" transform="rotate(0 541 195.5)"/>
<ellipse cx="546" cy="197" rx="1.2" ry="1.8" fill="#DDE5B5" transform="rotate(0 546 197)"/>
<ellipse cx="551" cy="199" rx="2" ry="1.5" fill="#8FA886" transform="rotate(0 551 199)"/>
<ellipse cx="557" cy="194" rx="1.2" ry="1.2" fill="#DDE5B5" transform="rotate(0 557 194)"/>
<ellipse cx="561" cy="196" rx="1.3" ry="2" fill="#8FA886" transform="rotate(0 561 196)"/>
<ellipse cx="538" cy="191" rx="1" ry="1.4" fill="#DDE5B5" transform="rotate(0 538 191)"/>
<ellipse cx="554" cy="186.5" rx="1.2" ry="1.2" fill="#DDE5B5" transform="rotate(0 554 186.5)"/>
<defs><radialGradient id="cg" cx="50%" cy="50%" r="50%"><stop offset="0" stop-color="#F7ECEE" stop-opacity="0.9"/><stop offset="0.8" stop-color="#F3E3E6" stop-opacity="0.85"/><stop offset="1" stop-color="#E4CDD2" stop-opacity="0.9"/></radialGradient><radialGradient id="ng" cx="45%" cy="40%" r="60%"><stop offset="0" stop-color="#E58C84"/><stop offset="1" stop-color="#D2655F"/></radialGradient></defs>
<circle cx="415.6" cy="558" r="9" fill="url(#cg)" stroke="#D9C6CB" stroke-width="0.6"/>
<circle cx="408" cy="571" r="9.3" fill="url(#cg)" stroke="#D9C6CB" stroke-width="0.6"/>
<circle cx="433.6" cy="562" r="7" fill="url(#cg)" stroke="#D9C6CB" stroke-width="0.6"/>
<circle cx="434" cy="575.6" r="10" fill="url(#cg)" stroke="#D9C6CB" stroke-width="0.6"/>
<circle cx="421" cy="579" r="7.2" fill="url(#cg)" stroke="#D9C6CB" stroke-width="0.6"/>
<circle cx="423" cy="565" r="10" fill="url(#cg)" stroke="#D9C6CB" stroke-width="0.6"/>
<circle cx="415.6" cy="558.5" r="4" fill="url(#ng)"/>
<circle cx="408" cy="571.5" r="4" fill="url(#ng)"/>
<circle cx="433.6" cy="562.5" r="3" fill="url(#ng)"/>
<circle cx="434" cy="576.1" r="4.5" fill="url(#ng)"/>
<circle cx="421" cy="579.5" r="3" fill="url(#ng)"/>
<circle cx="423" cy="565.5" r="5" fill="url(#ng)"/>
<path d="M518.0,573.0 Q509.9,570.6 501.8,566.9" fill="none" stroke="#A04A42" stroke-width="0.9" stroke-opacity="0.9"/>
<path d="M518.0,573.0 Q509.2,571.9 500.4,568.3" fill="none" stroke="#A04A42" stroke-width="0.9" stroke-opacity="0.9"/>
<path d="M518.0,573.0 Q508.8,570.7 499.6,570.1" fill="none" stroke="#A04A42" stroke-width="0.9" stroke-opacity="0.9"/>
<path d="M518.0,573.0 Q508.6,571.5 499.2,572.0" fill="none" stroke="#A04A42" stroke-width="0.9" stroke-opacity="0.9"/>
<path d="M518.0,573.0 Q508.8,572.4 499.6,573.9" fill="none" stroke="#A04A42" stroke-width="0.9" stroke-opacity="0.9"/>
<path d="M518.0,573.0 Q509.2,574.6 500.4,575.7" fill="none" stroke="#A04A42" stroke-width="0.9" stroke-opacity="0.9"/>
<path d="M518.0,573.0 Q509.9,575.2 501.8,577.1" fill="none" stroke="#A04A42" stroke-width="0.9" stroke-opacity="0.9"/>
<circle cx="503.7" cy="566.5" r="1.1" fill="#E6C0BC" fill-opacity="0.8" stroke="#A8605A" stroke-width="0.55" stroke-opacity="0.9"/>
<circle cx="503.2" cy="578.6" r="1.4" fill="#E6C0BC" fill-opacity="0.8" stroke="#A8605A" stroke-width="0.55" stroke-opacity="0.9"/>
<circle cx="510.1" cy="572.5" r="1.1" fill="#E6C0BC" fill-opacity="0.8" stroke="#A8605A" stroke-width="0.55" stroke-opacity="0.9"/>
<circle cx="502.6" cy="573.6" r="0.9" fill="#E6C0BC" fill-opacity="0.8" stroke="#A8605A" stroke-width="0.55" stroke-opacity="0.9"/>
<circle cx="508.9" cy="576.3" r="1.3" fill="#E6C0BC" fill-opacity="0.8" stroke="#A8605A" stroke-width="0.55" stroke-opacity="0.9"/>
<circle cx="500.8" cy="573.5" r="1.4" fill="#E6C0BC" fill-opacity="0.8" stroke="#A8605A" stroke-width="0.55" stroke-opacity="0.9"/>
<circle cx="506.5" cy="564.4" r="1.1" fill="#E6C0BC" fill-opacity="0.8" stroke="#A8605A" stroke-width="0.55" stroke-opacity="0.9"/>
<circle cx="503.3" cy="571.1" r="0.9" fill="#E6C0BC" fill-opacity="0.8" stroke="#A8605A" stroke-width="0.55" stroke-opacity="0.9"/>
<circle cx="508.0" cy="575.3" r="1.5" fill="#E6C0BC" fill-opacity="0.8" stroke="#A8605A" stroke-width="0.55" stroke-opacity="0.9"/>
<circle cx="510.0" cy="569.8" r="1.5" fill="#E6C0BC" fill-opacity="0.8" stroke="#A8605A" stroke-width="0.55" stroke-opacity="0.9"/>
<circle cx="503.8" cy="574.4" r="1.1" fill="#E6C0BC" fill-opacity="0.8" stroke="#A8605A" stroke-width="0.55" stroke-opacity="0.9"/>
<circle cx="508.5" cy="570.0" r="1.4" fill="#E6C0BC" fill-opacity="0.8" stroke="#A8605A" stroke-width="0.55" stroke-opacity="0.9"/>
<circle cx="510.3" cy="570.0" r="1.4" fill="#E6C0BC" fill-opacity="0.8" stroke="#A8605A" stroke-width="0.55" stroke-opacity="0.9"/>
<circle cx="509.7" cy="569.0" r="1.3" fill="#E6C0BC" fill-opacity="0.8" stroke="#A8605A" stroke-width="0.55" stroke-opacity="0.9"/>
<circle cx="509.5" cy="567.0" r="1.3" fill="#E6C0BC" fill-opacity="0.8" stroke="#A8605A" stroke-width="0.55" stroke-opacity="0.9"/>
<circle cx="508.6" cy="566.5" r="1.6" fill="#E6C0BC" fill-opacity="0.8" stroke="#A8605A" stroke-width="0.55" stroke-opacity="0.9"/>
<circle cx="498.7" cy="569.9" r="1.0" fill="#E6C0BC" fill-opacity="0.8" stroke="#A8605A" stroke-width="0.55" stroke-opacity="0.9"/>
<circle cx="503.7" cy="572.1" r="1.1" fill="#E6C0BC" fill-opacity="0.8" stroke="#A8605A" stroke-width="0.55" stroke-opacity="0.9"/>
<circle cx="500.5" cy="577.0" r="1.4" fill="#E6C0BC" fill-opacity="0.8" stroke="#A8605A" stroke-width="0.55" stroke-opacity="0.9"/>
<circle cx="504.5" cy="567.7" r="1.6" fill="#E6C0BC" fill-opacity="0.8" stroke="#A8605A" stroke-width="0.55" stroke-opacity="0.9"/>
<circle cx="501.1" cy="570.9" r="1.0" fill="#E6C0BC" fill-opacity="0.8" stroke="#A8605A" stroke-width="0.55" stroke-opacity="0.9"/>
<circle cx="498.7" cy="573.6" r="1.2" fill="#E6C0BC" fill-opacity="0.8" stroke="#A8605A" stroke-width="0.55" stroke-opacity="0.9"/>
<circle cx="512.4" cy="568.9" r="1.6" fill="#E6C0BC" fill-opacity="0.8" stroke="#A8605A" stroke-width="0.55" stroke-opacity="0.9"/>
<circle cx="506.2" cy="572.9" r="1.0" fill="#E6C0BC" fill-opacity="0.8" stroke="#A8605A" stroke-width="0.55" stroke-opacity="0.9"/>
<circle cx="509.3" cy="572.2" r="1.6" fill="#E6C0BC" fill-opacity="0.8" stroke="#A8605A" stroke-width="0.55" stroke-opacity="0.9"/>
<circle cx="506.2" cy="570.9" r="1.3" fill="#E6C0BC" fill-opacity="0.8" stroke="#A8605A" stroke-width="0.55" stroke-opacity="0.9"/>
<circle cx="502.0" cy="570.1" r="1.4" fill="#E6C0BC" fill-opacity="0.8" stroke="#A8605A" stroke-width="0.55" stroke-opacity="0.9"/>
<circle cx="513.3" cy="573.6" r="1.6" fill="#E6C0BC" fill-opacity="0.8" stroke="#A8605A" stroke-width="0.55" stroke-opacity="0.9"/>
<circle cx="506.5" cy="574.2" r="1.2" fill="#E6C0BC" fill-opacity="0.8" stroke="#A8605A" stroke-width="0.55" stroke-opacity="0.9"/>
<circle cx="513.8" cy="571.7" r="1.3" fill="#E6C0BC" fill-opacity="0.8" stroke="#A8605A" stroke-width="0.55" stroke-opacity="0.9"/>
<circle cx="504.7" cy="569.6" r="0.9" fill="#E6C0BC" fill-opacity="0.8" stroke="#A8605A" stroke-width="0.55" stroke-opacity="0.9"/>
<circle cx="510.2" cy="577.8" r="1.7" fill="#E6C0BC" fill-opacity="0.8" stroke="#A8605A" stroke-width="0.55" stroke-opacity="0.9"/>
<circle cx="510.9" cy="569.3" r="1.5" fill="#E6C0BC" fill-opacity="0.8" stroke="#A8605A" stroke-width="0.55" stroke-opacity="0.9"/>
<circle cx="503.7" cy="574.3" r="1.1" fill="#E6C0BC" fill-opacity="0.8" stroke="#A8605A" stroke-width="0.55" stroke-opacity="0.9"/>
<circle cx="509.9" cy="571.8" r="1.2" fill="#E6C0BC" fill-opacity="0.8" stroke="#A8605A" stroke-width="0.55" stroke-opacity="0.9"/>
<circle cx="509.5" cy="570.9" r="1.4" fill="#E6C0BC" fill-opacity="0.8" stroke="#A8605A" stroke-width="0.55" stroke-opacity="0.9"/>
<circle cx="513.2" cy="573.5" r="1.0" fill="#E6C0BC" fill-opacity="0.8" stroke="#A8605A" stroke-width="0.55" stroke-opacity="0.9"/>
<circle cx="505.4" cy="574.7" r="0.9" fill="#E6C0BC" fill-opacity="0.8" stroke="#A8605A" stroke-width="0.55" stroke-opacity="0.9"/>
<circle cx="509.0" cy="569.1" r="1.0" fill="#E6C0BC" fill-opacity="0.8" stroke="#A8605A" stroke-width="0.55" stroke-opacity="0.9"/>
<circle cx="508.4" cy="572.3" r="1.0" fill="#E6C0BC" fill-opacity="0.8" stroke="#A8605A" stroke-width="0.55" stroke-opacity="0.9"/>
<circle cx="502.2" cy="573.1" r="1.4" fill="#E6C0BC" fill-opacity="0.8" stroke="#A8605A" stroke-width="0.55" stroke-opacity="0.9"/>
<circle cx="508.4" cy="571.5" r="1.0" fill="#E6C0BC" fill-opacity="0.8" stroke="#A8605A" stroke-width="0.55" stroke-opacity="0.9"/>
<circle cx="501.6" cy="571.2" r="1.2" fill="#E6C0BC" fill-opacity="0.8" stroke="#A8605A" stroke-width="0.55" stroke-opacity="0.9"/>
<circle cx="500.6" cy="570.0" r="1.6" fill="#E6C0BC" fill-opacity="0.8" stroke="#A8605A" stroke-width="0.55" stroke-opacity="0.9"/>
<circle cx="505.9" cy="572.5" r="1.3" fill="#E6C0BC" fill-opacity="0.8" stroke="#A8605A" stroke-width="0.55" stroke-opacity="0.9"/>
<circle cx="502.4" cy="572.3" r="1.2" fill="#E6C0BC" fill-opacity="0.8" stroke="#A8605A" stroke-width="0.55" stroke-opacity="0.9"/>
<path d="M520.0,572.0 Q527.3,569.6 534.7,567.9" fill="none" stroke="#A04A42" stroke-width="0.9" stroke-opacity="0.9"/>
<path d="M520.0,572.0 Q528.0,571.2 536.1,569.3" fill="none" stroke="#A04A42" stroke-width="0.9" stroke-opacity="0.9"/>
<path d="M520.0,572.0 Q528.5,570.8 536.9,571.1" fill="none" stroke="#A04A42" stroke-width="0.9" stroke-opacity="0.9"/>
<path d="M520.0,572.0 Q528.6,572.2 537.2,573.0" fill="none" stroke="#A04A42" stroke-width="0.9" stroke-opacity="0.9"/>
<path d="M520.0,572.0 Q528.5,572.1 536.9,574.9" fill="none" stroke="#A04A42" stroke-width="0.9" stroke-opacity="0.9"/>
<path d="M520.0,572.0 Q528.0,573.9 536.1,576.7" fill="none" stroke="#A04A42" stroke-width="0.9" stroke-opacity="0.9"/>
<path d="M520.0,572.0 Q527.3,574.1 534.7,578.1" fill="none" stroke="#A04A42" stroke-width="0.9" stroke-opacity="0.9"/>
<circle cx="526.0" cy="576.8" r="1.7" fill="#E6C0BC" fill-opacity="0.8" stroke="#A8605A" stroke-width="0.55" stroke-opacity="0.9"/>
<circle cx="536.7" cy="577.8" r="1.1" fill="#E6C0BC" fill-opacity="0.8" stroke="#A8605A" stroke-width="0.55" stroke-opacity="0.9"/>
<circle cx="529.6" cy="570.2" r="1.3" fill="#E6C0BC" fill-opacity="0.8" stroke="#A8605A" stroke-width="0.55" stroke-opacity="0.9"/>
<circle cx="535.4" cy="578.7" r="1.6" fill="#E6C0BC" fill-opacity="0.8" stroke="#A8605A" stroke-width="0.55" stroke-opacity="0.9"/>
<circle cx="530.4" cy="571.1" r="1.0" fill="#E6C0BC" fill-opacity="0.8" stroke="#A8605A" stroke-width="0.55" stroke-opacity="0.9"/>
<circle cx="537.1" cy="573.1" r="1.4" fill="#E6C0BC" fill-opacity="0.8" stroke="#A8605A" stroke-width="0.55" stroke-opacity="0.9"/>
<circle cx="534.1" cy="568.2" r="0.9" fill="#E6C0BC" fill-opacity="0.8" stroke="#A8605A" stroke-width="0.55" stroke-opacity="0.9"/>
<circle cx="530.7" cy="572.4" r="1.4" fill="#E6C0BC" fill-opacity="0.8" stroke="#A8605A" stroke-width="0.55" stroke-opacity="0.9"/>
<circle cx="523.3" cy="574.0" r="1.0" fill="#E6C0BC" fill-opacity="0.8" stroke="#A8605A" stroke-width="0.55" stroke-opacity="0.9"/>
<circle cx="526.6" cy="578.7" r="1.5" fill="#E6C0BC" fill-opacity="0.8" stroke="#A8605A" stroke-width="0.55" stroke-opacity="0.9"/>
<circle cx="531.3" cy="576.3" r="1.4" fill="#E6C0BC" fill-opacity="0.8" stroke="#A8605A" stroke-width="0.55" stroke-opacity="0.9"/>
<circle cx="523.9" cy="572.5" r="1.2" fill="#E6C0BC" fill-opacity="0.8" stroke="#A8605A" stroke-width="0.55" stroke-opacity="0.9"/>
<circle cx="528.1" cy="573.7" r="1.4" fill="#E6C0BC" fill-opacity="0.8" stroke="#A8605A" stroke-width="0.55" stroke-opacity="0.9"/>
<circle cx="528.6" cy="573.2" r="1.3" fill="#E6C0BC" fill-opacity="0.8" stroke="#A8605A" stroke-width="0.55" stroke-opacity="0.9"/>
<circle cx="536.2" cy="578.0" r="1.3" fill="#E6C0BC" fill-opacity="0.8" stroke="#A8605A" stroke-width="0.55" stroke-opacity="0.9"/>
<circle cx="526.2" cy="570.8" r="1.3" fill="#E6C0BC" fill-opacity="0.8" stroke="#A8605A" stroke-width="0.55" stroke-opacity="0.9"/>
<circle cx="535.9" cy="571.8" r="1.1" fill="#E6C0BC" fill-opacity="0.8" stroke="#A8605A" stroke-width="0.55" stroke-opacity="0.9"/>
<circle cx="535.0" cy="572.9" r="1.6" fill="#E6C0BC" fill-opacity="0.8" stroke="#A8605A" stroke-width="0.55" stroke-opacity="0.9"/>
<circle cx="531.8" cy="571.1" r="1.0" fill="#E6C0BC" fill-opacity="0.8" stroke="#A8605A" stroke-width="0.55" stroke-opacity="0.9"/>
<circle cx="527.8" cy="569.8" r="1.6" fill="#E6C0BC" fill-opacity="0.8" stroke="#A8605A" stroke-width="0.55" stroke-opacity="0.9"/>
<circle cx="527.3" cy="578.4" r="1.4" fill="#E6C0BC" fill-opacity="0.8" stroke="#A8605A" stroke-width="0.55" stroke-opacity="0.9"/>
<circle cx="523.8" cy="574.4" r="0.9" fill="#E6C0BC" fill-opacity="0.8" stroke="#A8605A" stroke-width="0.55" stroke-opacity="0.9"/>
<circle cx="525.6" cy="568.5" r="1.6" fill="#E6C0BC" fill-opacity="0.8" stroke="#A8605A" stroke-width="0.55" stroke-opacity="0.9"/>
<circle cx="523.2" cy="576.6" r="1.0" fill="#E6C0BC" fill-opacity="0.8" stroke="#A8605A" stroke-width="0.55" stroke-opacity="0.9"/>
<circle cx="526.8" cy="576.7" r="1.1" fill="#E6C0BC" fill-opacity="0.8" stroke="#A8605A" stroke-width="0.55" stroke-opacity="0.9"/>
<circle cx="530.2" cy="571.0" r="1.4" fill="#E6C0BC" fill-opacity="0.8" stroke="#A8605A" stroke-width="0.55" stroke-opacity="0.9"/>
<circle cx="533.8" cy="577.2" r="1.7" fill="#E6C0BC" fill-opacity="0.8" stroke="#A8605A" stroke-width="0.55" stroke-opacity="0.9"/>
<circle cx="535.3" cy="576.5" r="1.6" fill="#E6C0BC" fill-opacity="0.8" stroke="#A8605A" stroke-width="0.55" stroke-opacity="0.9"/>
<circle cx="529.3" cy="571.9" r="1.4" fill="#E6C0BC" fill-opacity="0.8" stroke="#A8605A" stroke-width="0.55" stroke-opacity="0.9"/>
<circle cx="528.5" cy="569.6" r="1.2" fill="#E6C0BC" fill-opacity="0.8" stroke="#A8605A" stroke-width="0.55" stroke-opacity="0.9"/>
<circle cx="534.7" cy="571.3" r="0.9" fill="#E6C0BC" fill-opacity="0.8" stroke="#A8605A" stroke-width="0.55" stroke-opacity="0.9"/>
<circle cx="529.0" cy="580.2" r="0.9" fill="#E6C0BC" fill-opacity="0.8" stroke="#A8605A" stroke-width="0.55" stroke-opacity="0.9"/>
<circle cx="530.5" cy="573.4" r="1.3" fill="#E6C0BC" fill-opacity="0.8" stroke="#A8605A" stroke-width="0.55" stroke-opacity="0.9"/>
<circle cx="528.1" cy="575.7" r="1.4" fill="#E6C0BC" fill-opacity="0.8" stroke="#A8605A" stroke-width="0.55" stroke-opacity="0.9"/>
<circle cx="531.2" cy="575.3" r="1.0" fill="#E6C0BC" fill-opacity="0.8" stroke="#A8605A" stroke-width="0.55" stroke-opacity="0.9"/>
<circle cx="531.2" cy="565.9" r="1.1" fill="#E6C0BC" fill-opacity="0.8" stroke="#A8605A" stroke-width="0.55" stroke-opacity="0.9"/>
<circle cx="527.0" cy="568.5" r="1.5" fill="#E6C0BC" fill-opacity="0.8" stroke="#A8605A" stroke-width="0.55" stroke-opacity="0.9"/>
<circle cx="536.9" cy="575.0" r="1.4" fill="#E6C0BC" fill-opacity="0.8" stroke="#A8605A" stroke-width="0.55" stroke-opacity="0.9"/>
<circle cx="532.7" cy="575.9" r="1.2" fill="#E6C0BC" fill-opacity="0.8" stroke="#A8605A" stroke-width="0.55" stroke-opacity="0.9"/>
<circle cx="528.1" cy="574.3" r="1.5" fill="#E6C0BC" fill-opacity="0.8" stroke="#A8605A" stroke-width="0.55" stroke-opacity="0.9"/>
<circle cx="536.3" cy="573.2" r="1.5" fill="#E6C0BC" fill-opacity="0.8" stroke="#A8605A" stroke-width="0.55" stroke-opacity="0.9"/>
<circle cx="530.2" cy="571.0" r="1.2" fill="#E6C0BC" fill-opacity="0.8" stroke="#A8605A" stroke-width="0.55" stroke-opacity="0.9"/>
<circle cx="537.1" cy="573.8" r="1.0" fill="#E6C0BC" fill-opacity="0.8" stroke="#A8605A" stroke-width="0.55" stroke-opacity="0.9"/>
<circle cx="531.0" cy="577.7" r="1.4" fill="#E6C0BC" fill-opacity="0.8" stroke="#A8605A" stroke-width="0.55" stroke-opacity="0.9"/>
<circle cx="527.3" cy="570.9" r="1.6" fill="#E6C0BC" fill-opacity="0.8" stroke="#A8605A" stroke-width="0.55" stroke-opacity="0.9"/>
<circle cx="536.1" cy="567.5" r="1.0" fill="#E6C0BC" fill-opacity="0.8" stroke="#A8605A" stroke-width="0.55" stroke-opacity="0.9"/>
<path d="M520,550.8 C522.5,555 523,560 520,566 C516.5,572 515.5,577 518,582 C520,586 522.5,589 525,591.3" fill="none" stroke="#8E3832" stroke-width="7.4" stroke-linecap="butt"/>
<path d="M520,550.8 C522.5,555 523,560 520,566 C516.5,572 515.5,577 518,582 C520,586 522.5,589 525,591.3" fill="none" stroke="#AE4A40" stroke-width="5.6" stroke-linecap="butt"/>
<path d="M519.2,551.5 C521.7,555.5 522.2,560 519.2,566 C515.7,572 514.7,577 517.2,582 C519,586 521.5,589 524,591.5" fill="none" stroke="#C66C5E" stroke-width="1.8" stroke-linecap="butt" stroke-opacity="0.8"/>
</g>
</svg></body></html>
